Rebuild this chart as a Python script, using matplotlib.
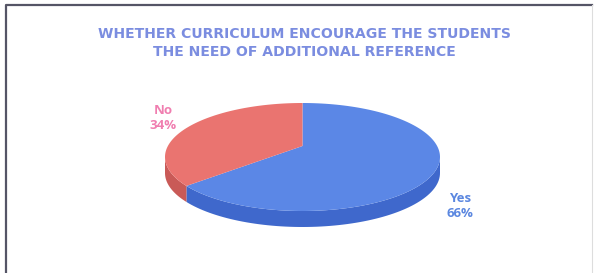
from matplotlib import pyplot as plt
from matplotlib.patches import Polygon
import numpy as np

# chart data
labels = ["Yes", "No"]
shares = [66, 34]
title = "WHETHER CURRICULUM ENCOURAGE THE STUDENTS\nTHE NEED OF ADDITIONAL REFERENCE"

top_cols = ["#5b87e6", "#ea7470"]
side_cols = ["#3f68cc", "#c95a57"]
lab_cols = ["#5b87e0", "#f07eb0"]

fig = plt.figure(figsize=(5.96, 2.73), dpi=100)
ax = fig.add_axes([0, 0, 1, 1])
ax.set_xlim(0, 596)
ax.set_ylim(273, 0)
ax.axis("off")

# frame
ax.plot([6, 6, 592], [273, 5, 5], color="#555566", lw=1.6)
ax.plot([592, 592], [5, 273], color="#dddddd", lw=0.8)

# pseudo 3d pie, angles clockwise from 12 o'clock
cx, cy = 302.5, 157
a, b = 137.5, 54
apex = (302.5, 146)
depth = 16

def pt(t):
    return cx + a*np.sin(t), cy - b*np.cos(t)

fr = np.array(shares, float) / sum(shares)
edges = np.concatenate([[0], np.cumsum(fr)]) * 2*np.pi

# side walls first (front half only, pi/2 .. 3pi/2)
for i in range(len(shares)):
    t0 = max(edges[i], np.pi/2)
    t1 = min(edges[i+1], 3*np.pi/2)
    if t1 <= t0:
        continue
    t = np.linspace(t0, t1, 80)
    x, y = pt(t)
    xs = np.concatenate([x, x[::-1]])
    ys = np.concatenate([y, y[::-1] + depth])
    ax.add_patch(Polygon(np.column_stack([xs, ys]), closed=True,
                         fc=side_cols[i], ec="none"))

# top faces
for i in range(len(shares)):
    t = np.linspace(edges[i], edges[i+1], 150)
    x, y = pt(t)
    xs = np.concatenate([[apex[0]], x])
    ys = np.concatenate([[apex[1]], y])
    ax.add_patch(Polygon(np.column_stack([xs, ys]), closed=True,
                         fc=top_cols[i], ec="none"))

# labels
lab_pos = [(460, 206), (163, 118)]
for i in range(len(shares)):
    ax.text(lab_pos[i][0], lab_pos[i][1], "%s\n%d%%" % (labels[i], shares[i]),
            ha="center", va="center", color=lab_cols[i], fontsize=9.5,
            fontweight="bold", family="Open Sans", linespacing=1.2)

ax.text(304, 43, title, ha="center", va="center", color="#7b8de0",
        fontsize=10.1, fontweight="bold", family="DejaVu Sans", linespacing=1.45)

plt.savefig("out.png", dpi=100)
